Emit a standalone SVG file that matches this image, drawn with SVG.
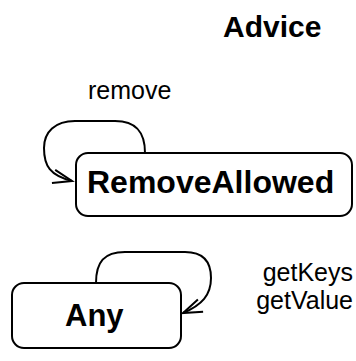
<svg xmlns="http://www.w3.org/2000/svg" width="356" height="361" viewBox="0 0 356 361">
<style>
.box{fill:#fff;stroke:#000;stroke-width:2}
.edge{fill:none;stroke:#000;stroke-width:2}
.lbl{font-family:"Liberation Sans",Arial,sans-serif;fill:#000}
.b{font-weight:bold}
</style>
<defs>
<marker id="arr" markerUnits="userSpaceOnUse" viewBox="-24 -12 28 24" markerWidth="28" markerHeight="24" refX="0" refY="0" orient="auto" overflow="visible">
<path d="M-19,-6.7 L0,0 L-19,6.7" fill="none" stroke="#000" stroke-width="2"/>
</marker>
</defs>
<rect width="356" height="361" fill="#fff"/>
<text class="lbl b" x="223" y="37" font-size="30">Advice</text>
<g id="connectors">
<g id="e-remove">
<path class="edge" d="M145,153 C145,132 136,121 115,121 L75,121 C55,121 44,132 44,148 C44,166 50,175.5 72,181" marker-end="url(#arr)"/>
<text class="lbl" x="88" y="99" font-size="25">remove</text>
</g>
<g id="e-any">
<path class="edge" d="M96,283 C96,262 104,252 125,252 L185,252 C203,252 211,262 211,278 C211,295 202,305 183,313" marker-end="url(#arr)"/>
<text class="lbl" x="353" y="281" font-size="25" text-anchor="end">getKeys</text>
<text class="lbl" x="353" y="309" font-size="25" text-anchor="end">getValue</text>
</g>
</g>
<g id="RemoveAllowed">
<rect class="box" x="76" y="153" width="276" height="63" rx="12"/>
<text class="lbl b" x="87" y="193" font-size="32">RemoveAllowed</text>
</g>
<g id="Any">
<rect class="box" x="12" y="283" width="169" height="65" rx="12"/>
<text class="lbl b" x="65" y="326" font-size="31">Any</text>
</g>
</svg>
